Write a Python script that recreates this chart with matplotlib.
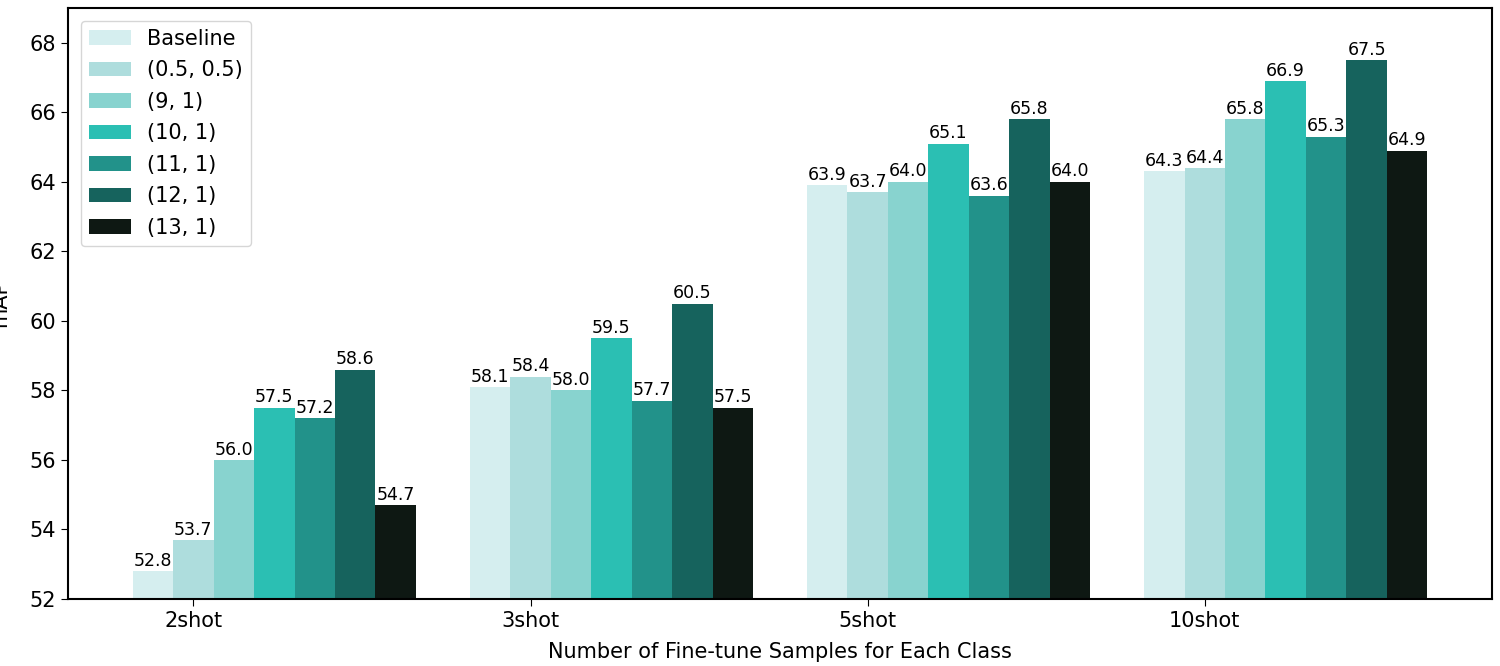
import matplotlib
matplotlib.use("Agg")
import matplotlib.pyplot as plt
import numpy as np

categories = ["2shot", "3shot", "5shot", "10shot"]
series_names = ["Baseline", "(0.5, 0.5)", "(9, 1)", "(10, 1)", "(11, 1)", "(12, 1)", "(13, 1)"]
baseline = [52.8, 58.1, 63.9, 64.3]
s_05_05 = [53.7, 58.4, 63.7, 64.4]
s_9_1 = [56.0, 58.0, 64.0, 65.8]
s_10_1 = [57.5, 59.5, 65.1, 66.9]
s_11_1 = [57.2, 57.7, 63.6, 65.3]
s_12_1 = [58.6, 60.5, 65.8, 67.5]
s_13_1 = [54.7, 57.5, 64.0, 64.9]
series = [baseline, s_05_05, s_9_1, s_10_1, s_11_1, s_12_1, s_13_1]
colors = ["#d5eeef", "#aedddd", "#88d3cf", "#2bbfb3", "#22928a", "#16635d", "#0e1813"]

fig = plt.figure(figsize=(15, 6.66), dpi=100)
ax = fig.add_axes([68/1500, 1 - 599/666, (1492-68)/1500, (599-8)/666])

x = np.arange(len(categories))
w = 0.12
for j, (name, vals, c) in enumerate(zip(series_names, series, colors)):
    bars = ax.bar(x + (j - 1) * w, vals, w, color=c, label=name)
    ax.bar_label(bars, labels=[f"{v:.1f}" for v in vals], fontsize=12.5, padding=1)

ax.set_ylim(52, 69)
ax.set_yticks(np.arange(52, 69, 2))
ax.set_xticks(x)
ax.set_xticklabels(categories)
ax.tick_params(labelsize=15, length=5)
ax.set_xlabel("Number of Fine-tune Samples for Each Class", fontsize=15, labelpad=8)
ax.set_ylabel("mAP", fontsize=15, labelpad=14)
ax.legend(loc="upper left", fontsize=15, borderaxespad=0.6, handlelength=2.0, labelspacing=0.55)
for s in ax.spines.values():
    s.set_linewidth(1.5)
fig.savefig("out.png", dpi=100)
